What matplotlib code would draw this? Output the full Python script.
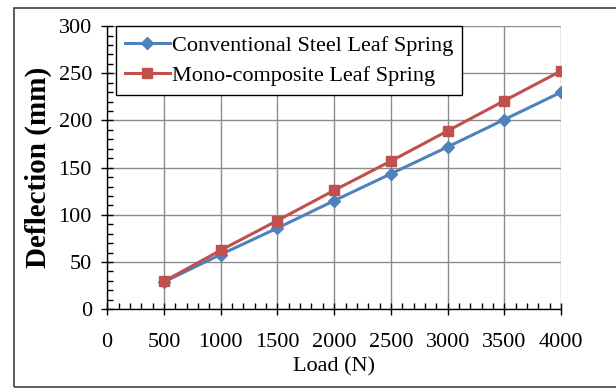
import matplotlib.pyplot as plt
from matplotlib.patches import Rectangle
from matplotlib.ticker import MultipleLocator

# Load vs deflection
load = [500, 1000, 1500, 2000, 2500, 3000, 3500, 4000]
steel = [29, 58, 86, 115, 143.5, 172, 201, 230]
composite = [29.5, 62.5, 94, 126, 157, 189, 221, 252.5]
series_names = ['Conventional Steel Leaf Spring', 'Mono-composite Leaf Spring']

plt.rcParams['font.family'] = ['Liberation Serif', 'DejaVu Serif']

fig = plt.figure(figsize=(6.16, 3.89), dpi=100)
ax = fig.add_axes([0.174, 0.205, 0.737, 0.728])

ax.plot(load, steel, color='#4F81BD', marker='D', markersize=6.5, linewidth=2.2,
        label=series_names[0], zorder=3)
ax.plot(load, composite, color='#C0504D', marker='s', markersize=7.5, linewidth=2.2,
        label=series_names[1], zorder=3)

ax.set_xlim(0, 4000)
ax.set_ylim(0, 300)
ax.xaxis.set_major_locator(MultipleLocator(500))
ax.xaxis.set_minor_locator(MultipleLocator(100))
ax.yaxis.set_major_locator(MultipleLocator(50))
ax.yaxis.set_minor_locator(MultipleLocator(10))

ax.grid(which='major', color='#8C8C8C', linewidth=1.0, zorder=0)
ax.set_axisbelow(True)
for s in ['top', 'right']:
    ax.spines[s].set_visible(False)
for s in ['left', 'bottom']:
    ax.spines[s].set_color('black')
    ax.spines[s].set_linewidth(1.0)

ax.tick_params(which='major', direction='inout', length=8, width=1.0,
               labelsize=16, pad=7)
ax.tick_params(which='minor', direction='in', length=4, width=1.0)
ax.tick_params(axis='x', which='major', pad=13)

ax.set_xlabel('Load (N)', fontsize=16, labelpad=4)
ax.set_ylabel('Deflection (mm)', fontsize=21, fontweight='bold', labelpad=5)

leg = ax.legend(loc='upper left', bbox_to_anchor=(0.02, 1.0), fontsize=16,
                frameon=True, fancybox=False, edgecolor='black',
                borderpad=0.4, labelspacing=0.45, handlelength=2.0,
                handletextpad=0.1, borderaxespad=0.0, markerscale=0.9)
leg.get_frame().set_linewidth(1.0)
leg.get_frame().set_alpha(1.0)

# outer border around the chart area
fig.patches.append(Rectangle((14 / 616, 2 / 389), 1.2, 1 - 10 / 389,
                             transform=fig.transFigure, fill=False,
                             edgecolor='#404040', linewidth=1.2))

fig.savefig('out.png', dpi=100)
